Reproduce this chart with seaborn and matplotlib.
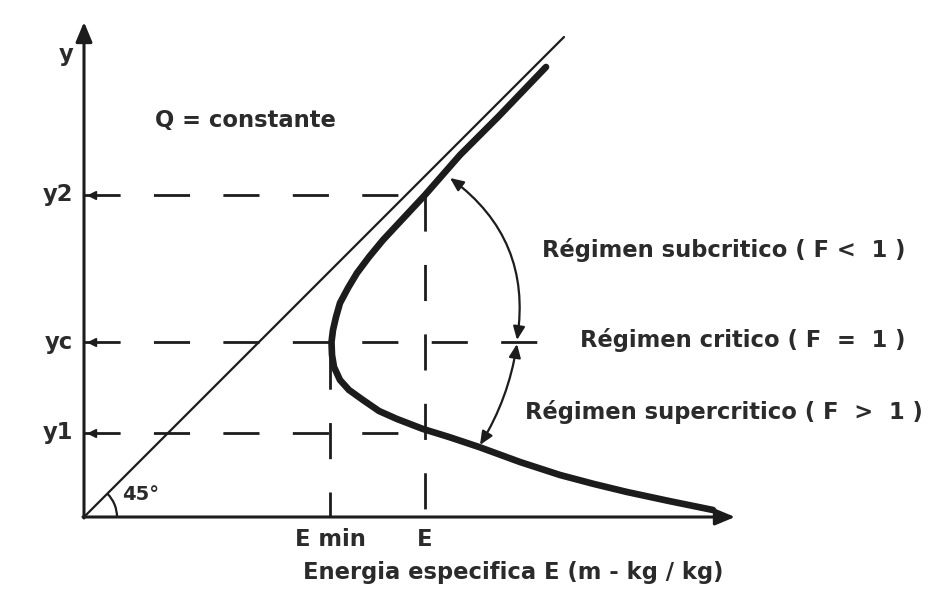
import numpy as np
import pandas as pd
import seaborn as sns
import matplotlib.pyplot as plt
from matplotlib.patches import Arc

# Curva de energia especifica (unidades arbitrarias)
energia = [4.62, 4.14, 3.76, 3.41, 2.99, 2.85, 2.73, 2.64, 2.56, 2.52, 2.49, 2.475,
           2.48, 2.50, 2.56, 2.65, 2.79, 2.95, 3.13, 3.39, 3.65, 3.95, 4.36, 4.76,
           5.10, 5.43, 5.85, 6.29]
tirante = [4.50, 4.00, 3.62, 3.22, 2.77, 2.60, 2.44, 2.29, 2.14, 2.00, 1.87, 1.75,
           1.62, 1.50, 1.37, 1.27, 1.17, 1.06, 0.98, 0.88, 0.80, 0.70, 0.55, 0.42,
           0.33, 0.25, 0.16, 0.07]

# niveles y energias marcadas
niveles = ['y2', 'yc', 'y1']
niveles_y = [3.22, 1.75, 0.84]
niveles_fin = [3.41, 4.62, 3.41]
energias_lbl = ['E min', 'E']
energias_x = [2.46, 3.41]

regimenes = ['Régimen subcritico ( F <  1 )', 'Régimen critico ( F  =  1 )',
             'Régimen supercritico ( F  >  1 )']

ink = '#1c1c1c'
txt = '#2b2b2b'

sns.set_style('white')
plt.rcParams['font.family'] = ['DejaVu Sans']

fig = plt.figure(figsize=(9.42, 6.03), dpi=100)
ax = fig.add_axes([0, 0, 1, 1])
ax.set_xlim(-0.84, 8.58)
ax.set_ylim(-0.86, 5.17)
ax.axis('off')

# ejes con flecha
arr = dict(arrowstyle='-|>,head_length=0.6,head_width=0.25', lw=2.2, color=ink,
           shrinkA=0, shrinkB=0, mutation_scale=20)
ax.annotate('', xy=(0, 4.95), xytext=(0, -0.01), arrowprops=arr)
ax.annotate('', xy=(6.51, 0), xytext=(-0.01, 0), arrowprops=arr)

# linea a 45 grados
ax.plot([0, 4.8], [0, 4.8], color=ink, lw=1.6)
ax.add_patch(Arc((0, 0), 0.66, 0.66, theta1=0, theta2=45, color=ink, lw=1.6))

# lineas de trazos
dash = (0, (13, 12))
for yv, xe in zip(niveles_y, niveles_fin):
    ax.plot([0, xe], [yv, yv], color=ink, lw=2.0, linestyle=dash)
    ax.plot([0.08], [yv], marker='<', ms=6, color=ink)
ax.plot([energias_x[0], energias_x[0]], [0, niveles_y[1]], color=ink, lw=2.0, linestyle=(4, (13, 12)))
ax.plot([energias_x[1], energias_x[1]], [niveles_y[0], 0], color=ink, lw=2.0, linestyle=dash)

# curva E - y
df = pd.DataFrame({'E': energia, 'y': tirante})
sns.lineplot(data=df, x='E', y='y', sort=False, estimator=None, color=ink, lw=4.8, ax=ax)

# flechas de regimen
a2 = dict(arrowstyle='<|-|>,head_length=0.5,head_width=0.22', lw=1.6, color=ink,
          shrinkA=0, shrinkB=0, mutation_scale=16)
ax.annotate('', xy=(4.33, 1.77), xytext=(3.66, 3.39),
            arrowprops=dict(a2, connectionstyle='arc3,rad=-0.3'))
ax.annotate('', xy=(3.96, 0.72), xytext=(4.33, 1.73),
            arrowprops=dict(a2, connectionstyle='arc3,rad=-0.1'))

# textos
fs = 16.3
kw = dict(fontsize=fs, fontweight='bold', color=txt, va='center')
ax.text(-0.18, 4.62, 'y', ha='center', **kw)
ax.text(0.71, 3.97, 'Q = constante', **kw)
for lbl, yv in zip(niveles, niveles_y):
    ax.text(-0.11, yv, lbl, ha='right', **kw)
for lbl, xv in zip(energias_lbl, energias_x):
    ax.text(xv, -0.23, lbl, ha='center', **kw)
ax.text(2.19, -0.56, 'Energia especifica E (m - kg / kg)', **kw)
ax.text(0.38, 0.22, '45°', **dict(kw, fontsize=14))
for lbl, (xt, yt) in zip(regimenes, [(4.58, 2.67), (4.96, 1.77), (4.41, 1.05)]):
    ax.text(xt, yt, lbl, **kw)

fig.savefig('out.png', dpi=100, facecolor='white')
